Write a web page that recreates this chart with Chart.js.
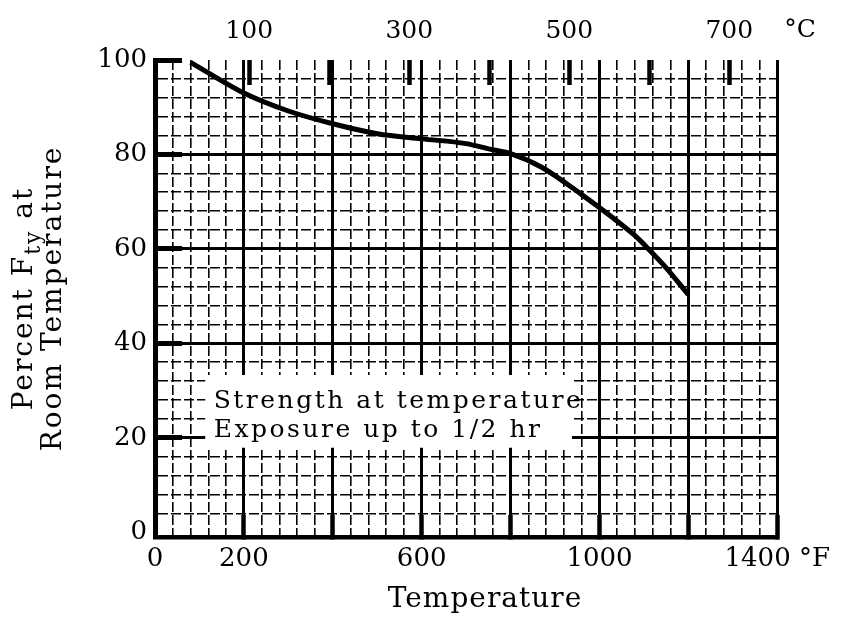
<!DOCTYPE html>
<html>
<head>
<meta charset="utf-8">
<script src="https://cdn.jsdelivr.net/npm/chart.js@4.4.1/dist/chart.umd.min.js"></script>
<style>
  body { margin: 0; background: #fff; }
  canvas { display: block; }
</style>
</head>
<body>
<canvas id="ftyChart" width="859" height="618"></canvas>
<script>
// curve: percent of room-temperature Fty vs exposure temperature (°F)
const tempF = [80, 200, 300, 400, 500, 600, 700, 760, 800, 870, 960, 1030, 1080, 1110, 1150, 1200];
const pctFty = [99.5, 93.0, 89.2, 86.5, 84.4, 83.3, 82.3, 81.0, 80.2, 77.3, 71.5, 66.6, 62.8, 60.0, 56.0, 50.3];

// labelled ticks
const fLabels = [0, 200, 600, 1000, 1400];
const cLabels = [100, 300, 500, 700];
const pctLabels = [0, 20, 40, 60, 80, 100];

const noteLines = ['Strength at temperature', 'Exposure up to 1/2 hr'];

const fToC = f => (f - 32) * 5 / 9;
const FONT = '"DejaVu Serif", serif';
Chart.defaults.font.family = FONT;

function stepTicks(min, max, step) {
    const t = [];
    for (let v = min; v <= max + 1e-9; v += step) t.push({ value: v });
    return t;
}

const isMajorF = c => c.tick && c.tick.value % 200 === 0;
const isMajorP = c => c.tick && c.tick.value % 20 === 0;

// axis titles, unit, and the boxed note
const textPlugin = {
    id: 'textPlugin',
    afterDraw(chart) {
        const { ctx, scales: { x, y, x2 } } = chart;
        ctx.save();

        // note box (white, covers the grid)
        const bx0 = x.getPixelForValue(113), bx1 = x.getPixelForValue(938);
        const by0 = y.getPixelForValue(33.3), by1 = y.getPixelForValue(17.9);
        ctx.fillStyle = '#fff';
        ctx.fillRect(bx0, by0, bx1 - bx0, by1 - by0);
        ctx.fillStyle = '#000';
        ctx.font = '25px ' + FONT;
        ctx.letterSpacing = '2.5px';
        ctx.textAlign = 'left';
        ctx.textBaseline = 'alphabetic';
        ctx.fillText(noteLines[0], x.getPixelForValue(132), y.getPixelForValue(26.4));
        ctx.fillText(noteLines[1], x.getPixelForValue(132), y.getPixelForValue(20.2));

        // °C after the last top label
        ctx.letterSpacing = '0px';
        ctx.font = '25px ' + FONT;
        ctx.fillText('°C', x2.getPixelForValue(700) + 55, 37);

        // bottom title
        ctx.font = '28px ' + FONT;
        ctx.letterSpacing = '1px';
        ctx.textAlign = 'center';
        ctx.fillText('Temperature', 485, 607);

        // y title, two rotated lines, Fty with subscript
        ctx.translate(0, (y.top + y.bottom) / 2);
        ctx.rotate(-Math.PI / 2);
        ctx.letterSpacing = '2px';
        ctx.fillText('Room Temperature', 0, 61);
        ctx.textAlign = 'left';
        const a = 'Percent F', sub = 'ty', b = ' at';
        ctx.font = '28px ' + FONT;
        const wa = ctx.measureText(a).width, wb = ctx.measureText(b).width;
        ctx.font = '22px ' + FONT;
        const ws = ctx.measureText(sub).width;
        let u = -(wa + ws + wb) / 2;
        ctx.font = '28px ' + FONT;
        ctx.fillText(a, u, 32);
        u += wa;
        ctx.font = '22px ' + FONT;
        ctx.fillText(sub, u, 40);
        u += ws;
        ctx.font = '28px ' + FONT;
        ctx.fillText(b, u, 32);
        ctx.restore();
    }
};

new Chart(document.getElementById('ftyChart'), {
    type: 'line',
    data: {
        datasets: [{
            data: tempF.map((f, i) => ({ x: f, y: pctFty[i] })),
            borderColor: '#000',
            borderWidth: 5,
            pointRadius: 0,
            cubicInterpolationMode: 'monotone',
            fill: false
        }]
    },
    options: {
        responsive: false,
        animation: false,
        layout: { padding: { left: 0, right: 59, top: 0, bottom: 0 } },
        plugins: { legend: { display: false }, tooltip: { enabled: false } },
        scales: {
            x: {
                type: 'linear', position: 'bottom', min: 0, max: 1400,
                afterBuildTicks: s => { s.ticks = stepTicks(0, 1400, 40); },
                afterFit: s => { s.height = 81; },
                ticks: {
                    autoSkip: false, maxRotation: 0, padding: 29, color: '#000', font: { size: 26 },
                    callback: v => fLabels.includes(v) ? (v === 1400 ? '1400 °F' : String(v)) : ''
                },
                grid: {
                    color: '#000',
                    lineWidth: c => isMajorF(c) ? 3 : 1.6,
                    tickLength: -22,
                    tickWidth: c => isMajorF(c) && c.tick.value > 0 ? 4.5 : 0,
                    tickColor: '#000'
                },
                border: { color: '#000', width: 4.5, dash: c => (c.tick && !isMajorF(c)) ? [10, 3] : [] }
            },
            x2: {
                type: 'linear', position: 'top', display: true, min: fToC(0), max: fToC(1400),
                afterBuildTicks: s => { s.ticks = stepTicks(100, 700, 100); },
                afterFit: s => { s.height = 60; },
                ticks: {
                    autoSkip: false, maxRotation: 0, padding: 39, color: '#000', font: { size: 25 },
                    callback: v => cLabels.includes(v) ? String(v) : ''
                },
                grid: { drawOnChartArea: false, tickLength: -25, tickWidth: 4.5, tickColor: '#000' },
                border: { display: false }
            },
            y: {
                min: -1, max: 100,
                afterBuildTicks: s => { s.ticks = stepTicks(0, 100, 4); },
                afterFit: s => { s.width = 155; },
                ticks: {
                    autoSkip: false, padding: 35, color: '#000', font: { size: 26 },
                    callback: v => pctLabels.includes(v) ? String(v) : ''
                },
                grid: {
                    color: c => c.tick && (c.tick.value === 0 || c.tick.value === 100) ? 'rgba(0,0,0,0)' : '#000',
                    lineWidth: c => isMajorP(c) ? 3 : 1.6,
                    tickLength: -27,
                    tickWidth: c => isMajorP(c) && c.tick.value > 0 ? 5 : 0,
                    tickColor: '#000'
                },
                border: { color: '#000', width: 5, dash: c => (c.tick && !isMajorP(c)) ? [10, 3] : [] }
            }
        }
    },
    plugins: [textPlugin]
});
</script>
</body>
</html>
